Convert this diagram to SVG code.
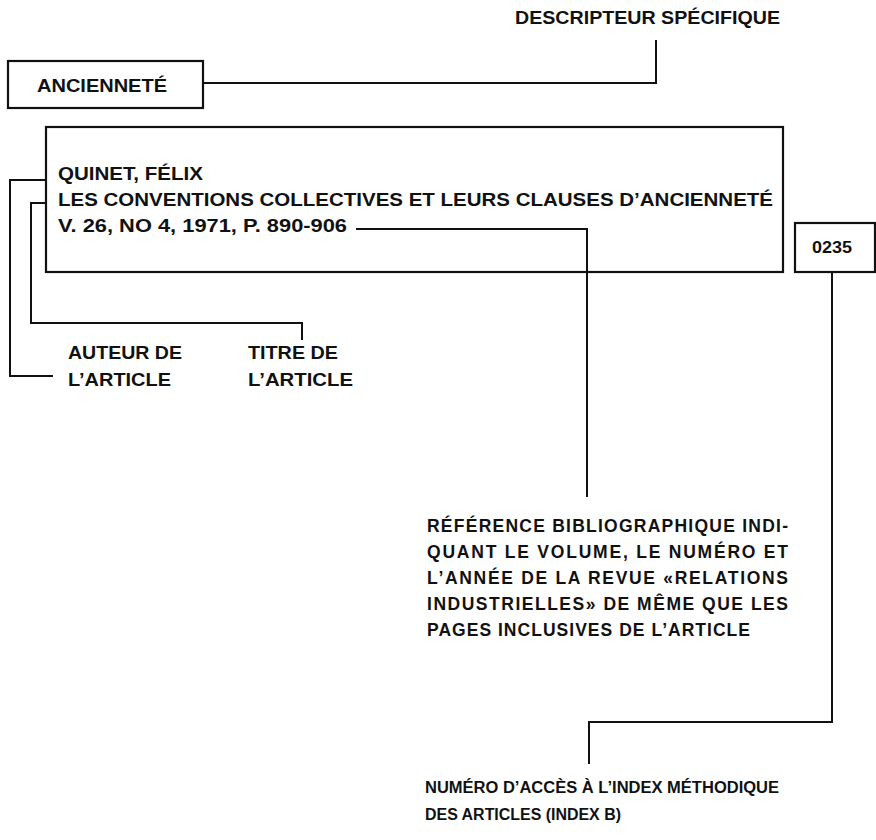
<svg xmlns="http://www.w3.org/2000/svg" width="876" height="840" viewBox="0 0 876 840">
<style>
text{font-family:"Liberation Sans",Arial,sans-serif;font-weight:bold;fill:#111}
.big{font-size:18.5px}
.ref{font-size:17.5px}
.sm{font-size:16px}
.num{font-size:16.5px}
.box{fill:none;stroke:#111;stroke-width:2.2}
.ln{fill:none;stroke:#111;stroke-width:2}
</style>
<rect width="876" height="840" fill="#fff"/>
<g id="descripteur">
<text class="big" x="515" y="24" textLength="265" lengthAdjust="spacingAndGlyphs">DESCRIPTEUR SPÉCIFIQUE</text>
</g>
<g id="anciennete">
<rect class="box" x="8" y="61" width="195" height="47"/>
<text class="big" x="37" y="92" textLength="130" lengthAdjust="spacingAndGlyphs">ANCIENNETÉ</text>
</g>
<g id="notice">
<rect class="box" x="46" y="127" width="737" height="145"/>
<text class="big" x="58" y="180" textLength="145" lengthAdjust="spacingAndGlyphs">QUINET, FÉLIX</text>
<text class="big" x="58" y="206" textLength="715" lengthAdjust="spacingAndGlyphs">LES CONVENTIONS COLLECTIVES ET LEURS CLAUSES D’ANCIENNETÉ</text>
<text class="big" x="58" y="232" textLength="289" lengthAdjust="spacingAndGlyphs">V. 26, NO 4, 1971, P. 890-906</text>
</g>
<g id="numero">
<rect class="box" x="795" y="223" width="80" height="49"/>
<text class="num" x="812" y="253" textLength="40" lengthAdjust="spacingAndGlyphs">0235</text>
</g>
<g id="auteur">
<text class="big" x="68" y="359" textLength="114" lengthAdjust="spacingAndGlyphs">AUTEUR DE</text>
<text class="big" x="68" y="386" textLength="103" lengthAdjust="spacingAndGlyphs">L’ARTICLE</text>
</g>
<g id="titre">
<text class="big" x="248" y="359" textLength="90" lengthAdjust="spacingAndGlyphs">TITRE DE</text>
<text class="big" x="248" y="386" textLength="105" lengthAdjust="spacingAndGlyphs">L’ARTICLE</text>
</g>
<g id="reference">
<text class="ref" x="427" y="532" textLength="361" lengthAdjust="spacing">RÉFÉRENCE BIBLIOGRAPHIQUE INDI-</text>
<text class="ref" x="427" y="558" textLength="361" lengthAdjust="spacing">QUANT LE VOLUME, LE NUMÉRO ET</text>
<text class="ref" x="427" y="584" textLength="361" lengthAdjust="spacing">L’ANNÉE DE LA REVUE «RELATIONS</text>
<text class="ref" x="427" y="610" textLength="361" lengthAdjust="spacing">INDUSTRIELLES» DE MÊME QUE LES</text>
<text class="ref" x="427" y="636" textLength="323" lengthAdjust="spacing">PAGES INCLUSIVES DE L’ARTICLE</text>
</g>
<g id="acces">
<text class="sm" x="425" y="793" textLength="354" lengthAdjust="spacingAndGlyphs">NUMÉRO D’ACCÈS À L’INDEX MÉTHODIQUE</text>
<text class="sm" x="425" y="820" textLength="196" lengthAdjust="spacingAndGlyphs">DES ARTICLES (INDEX B)</text>
</g>
<g id="connectors">
<polyline class="ln" points="203,83 656,83 656,40"/>
<polyline class="ln" points="46,180 10,180 10,376 53,376"/>
<polyline class="ln" points="46,203 31,203 31,323 302,323 302,340"/>
<polyline class="ln" points="356,229 587,229 587,497"/>
<polyline class="ln" points="832,272 832,722 589,722 589,764"/>
</g>
</svg>
